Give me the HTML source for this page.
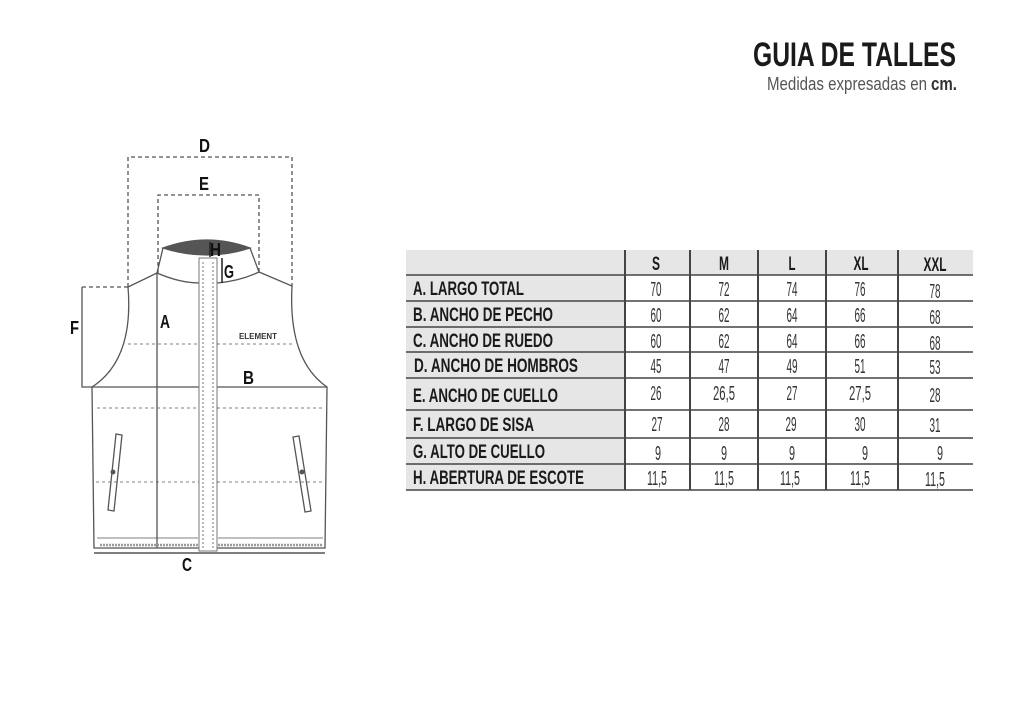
<!DOCTYPE html>
<html><head><meta charset="utf-8"><style>
html,body{margin:0;padding:0;background:#fff;}
svg{display:block;}
text{font-family:"Liberation Sans",sans-serif;}
</style></head><body>
<svg width="1024" height="724" viewBox="0 0 1024 724" xmlns="http://www.w3.org/2000/svg">
<rect width="1024" height="724" fill="#fff"/>
<text x="753" y="66" font-size="34" font-weight="bold" fill="#1a1a1a" textLength="203" lengthAdjust="spacingAndGlyphs">GUIA DE TALLES</text>
<text x="767" y="90" font-size="18" fill="#555" textLength="160" lengthAdjust="spacingAndGlyphs">Medidas expresadas en</text>
<text x="931" y="90" font-size="18" font-weight="bold" fill="#333" textLength="26" lengthAdjust="spacingAndGlyphs">cm.</text>

<g fill="none" stroke="#555" stroke-width="1.3">
 <path d="M128,287 V157 H292 V286" stroke-dasharray="4,3"/>
 <path d="M158,273 V195 H259 V272" stroke-dasharray="4,3"/>
 <path d="M82,287 V387 H92" />
 <path d="M82,287 H128" stroke-dasharray="4,3"/>
 <path d="M163,248 Q207,232 250,248 Q207,262 163,248 Z" fill="#555" stroke="#555"/>
 <path d="M163,248 L157,273 Q180,283 200,283 M217,283 Q240,281 259,272 L250,248"/>
 <path d="M157,273 L128,287 Q134,360 92,387 L94,548 L325,548 L327,387 Q288,360 292,286 L259,272"/>
 <path d="M92,387 H327"/>
 <path d="M157,273 V548"/>
 <path d="M94,553 H325" stroke-width="1.6"/>
 <rect x="199" y="258" width="18" height="293" fill="#fff" stroke="#777" stroke-width="1"/>
 <path d="M203,262 V548 M213,262 V548" stroke-dasharray="2,2" stroke-width="0.8"/>
 <path d="M210,242 V257 M222,258 V283" stroke="#222" stroke-width="1.5"/>
 <path d="M128,344 H199 M217,344 H293 M97,408 H199 M217,408 H325 M96,482 H199 M217,482 H324" stroke-dasharray="3,3" stroke-width="0.8"/>
 <path d="M97,538 H198 M218,538 H323" stroke-width="0.8"/>
 <path d="M100,545 H198 M218,545 H322" stroke-dasharray="2,1" stroke-width="2.5" stroke="#999"/>
 <path d="M116,434 L122,435 L114,511 L108,510 Z"/>
 <path d="M293,437 L299,436 L311,511 L305,512 Z"/>
</g>
<circle cx="113" cy="472" r="2.5" fill="#555"/>
<circle cx="302" cy="472" r="2.5" fill="#555"/>
<g font-weight="bold" fill="#111" font-size="18">
 <text x="199" y="152" textLength="11" lengthAdjust="spacingAndGlyphs">D</text>
 <text x="199" y="190" textLength="10" lengthAdjust="spacingAndGlyphs">E</text>
 <text x="210" y="256" textLength="11" lengthAdjust="spacingAndGlyphs">H</text>
 <text x="224" y="278" textLength="10" lengthAdjust="spacingAndGlyphs">G</text>
 <text x="160" y="328" textLength="10" lengthAdjust="spacingAndGlyphs">A</text>
 <text x="70" y="334" textLength="9" lengthAdjust="spacingAndGlyphs">F</text>
 <text x="243" y="384" textLength="11" lengthAdjust="spacingAndGlyphs">B</text>
 <text x="182" y="571" textLength="10" lengthAdjust="spacingAndGlyphs">C</text>
 <text x="239" y="339" font-size="8" fill="#333" textLength="38" lengthAdjust="spacingAndGlyphs">ELEMENT</text>
</g>

<rect x="406" y="250" width="567" height="25" fill="#e6e6e6"/>
<rect x="406" y="275" width="219" height="215" fill="#e6e6e6"/>
<g stroke="#444">
 <path d="M406,275 H973 M406,301 H973 M406,327 H973 M406,352 H973 M406,378 H973 M406,410 H973 M406,438 H973 M406,464 H973 M406,490 H973" stroke-width="1.5"/>
 <path d="M625,250 V490 M690,250 V490 M758,250 V490 M826,250 V490 M898,250 V490" stroke-width="2"/>
</g>
<g font-weight="bold" font-size="19" fill="#1a1a1a" text-anchor="middle">
 <text x="656" y="270" textLength="8" lengthAdjust="spacingAndGlyphs">S</text>
 <text x="724" y="270" textLength="10" lengthAdjust="spacingAndGlyphs">M</text>
 <text x="792" y="270" textLength="7" lengthAdjust="spacingAndGlyphs">L</text>
 <text x="861" y="270" textLength="15" lengthAdjust="spacingAndGlyphs">XL</text>
 <text x="935" y="271" textLength="23" lengthAdjust="spacingAndGlyphs">XXL</text>
</g>
<g font-weight="bold" font-size="19" fill="#1a1a1a">
 <text x="413" y="295" textLength="111" lengthAdjust="spacingAndGlyphs">A. LARGO TOTAL</text>
 <text x="413" y="321" textLength="140" lengthAdjust="spacingAndGlyphs">B. ANCHO DE PECHO</text>
 <text x="413" y="347" textLength="140" lengthAdjust="spacingAndGlyphs">C. ANCHO DE RUEDO</text>
 <text x="414" y="372" textLength="164" lengthAdjust="spacingAndGlyphs">D. ANCHO DE HOMBROS</text>
 <text x="413" y="402" textLength="145" lengthAdjust="spacingAndGlyphs">E. ANCHO DE CUELLO</text>
 <text x="413" y="431" textLength="121" lengthAdjust="spacingAndGlyphs">F. LARGO DE SISA</text>
 <text x="413" y="458" textLength="132" lengthAdjust="spacingAndGlyphs">G. ALTO DE CUELLO</text>
 <text x="413" y="484" textLength="171" lengthAdjust="spacingAndGlyphs">H. ABERTURA DE ESCOTE</text>
</g>
<g font-size="20" fill="#333" text-anchor="middle">
 <text x="656" y="296" textLength="11" lengthAdjust="spacingAndGlyphs">70</text>
 <text x="724" y="296" textLength="11" lengthAdjust="spacingAndGlyphs">72</text>
 <text x="792" y="296" textLength="11" lengthAdjust="spacingAndGlyphs">74</text>
 <text x="860" y="296" textLength="11" lengthAdjust="spacingAndGlyphs">76</text>
 <text x="935" y="298" textLength="11" lengthAdjust="spacingAndGlyphs">78</text>
 <text x="656" y="322" textLength="11" lengthAdjust="spacingAndGlyphs">60</text>
 <text x="724" y="322" textLength="11" lengthAdjust="spacingAndGlyphs">62</text>
 <text x="792" y="322" textLength="11" lengthAdjust="spacingAndGlyphs">64</text>
 <text x="860" y="322" textLength="11" lengthAdjust="spacingAndGlyphs">66</text>
 <text x="935" y="324" textLength="11" lengthAdjust="spacingAndGlyphs">68</text>
 <text x="656" y="348" textLength="11" lengthAdjust="spacingAndGlyphs">60</text>
 <text x="724" y="348" textLength="11" lengthAdjust="spacingAndGlyphs">62</text>
 <text x="792" y="348" textLength="11" lengthAdjust="spacingAndGlyphs">64</text>
 <text x="860" y="348" textLength="11" lengthAdjust="spacingAndGlyphs">66</text>
 <text x="935" y="350" textLength="11" lengthAdjust="spacingAndGlyphs">68</text>
 <text x="656" y="373" textLength="11" lengthAdjust="spacingAndGlyphs">45</text>
 <text x="724" y="373" textLength="11" lengthAdjust="spacingAndGlyphs">47</text>
 <text x="792" y="373" textLength="11" lengthAdjust="spacingAndGlyphs">49</text>
 <text x="860" y="373" textLength="11" lengthAdjust="spacingAndGlyphs">51</text>
 <text x="935" y="374" textLength="11" lengthAdjust="spacingAndGlyphs">53</text>
 <text x="656" y="400" textLength="11" lengthAdjust="spacingAndGlyphs">26</text>
 <text x="724" y="400" textLength="22" lengthAdjust="spacingAndGlyphs">26,5</text>
 <text x="792" y="400" textLength="11" lengthAdjust="spacingAndGlyphs">27</text>
 <text x="860" y="400" textLength="22" lengthAdjust="spacingAndGlyphs">27,5</text>
 <text x="935" y="402" textLength="11" lengthAdjust="spacingAndGlyphs">28</text>
 <text x="657" y="431" textLength="11" lengthAdjust="spacingAndGlyphs">27</text>
 <text x="724" y="431" textLength="11" lengthAdjust="spacingAndGlyphs">28</text>
 <text x="791" y="431" textLength="11" lengthAdjust="spacingAndGlyphs">29</text>
 <text x="860" y="431" textLength="11" lengthAdjust="spacingAndGlyphs">30</text>
 <text x="935" y="432" textLength="11" lengthAdjust="spacingAndGlyphs">31</text>
 <text x="658" y="460" textLength="6" lengthAdjust="spacingAndGlyphs">9</text>
 <text x="724" y="460" textLength="6" lengthAdjust="spacingAndGlyphs">9</text>
 <text x="792" y="460" textLength="6" lengthAdjust="spacingAndGlyphs">9</text>
 <text x="865" y="460" textLength="6" lengthAdjust="spacingAndGlyphs">9</text>
 <text x="940" y="460" textLength="6" lengthAdjust="spacingAndGlyphs">9</text>
 <text x="657" y="485" textLength="20" lengthAdjust="spacingAndGlyphs">11,5</text>
 <text x="724" y="485" textLength="20" lengthAdjust="spacingAndGlyphs">11,5</text>
 <text x="790" y="485" textLength="20" lengthAdjust="spacingAndGlyphs">11,5</text>
 <text x="860" y="485" textLength="20" lengthAdjust="spacingAndGlyphs">11,5</text>
 <text x="935" y="486" textLength="20" lengthAdjust="spacingAndGlyphs">11,5</text>
</g>
</svg>
</body></html>
